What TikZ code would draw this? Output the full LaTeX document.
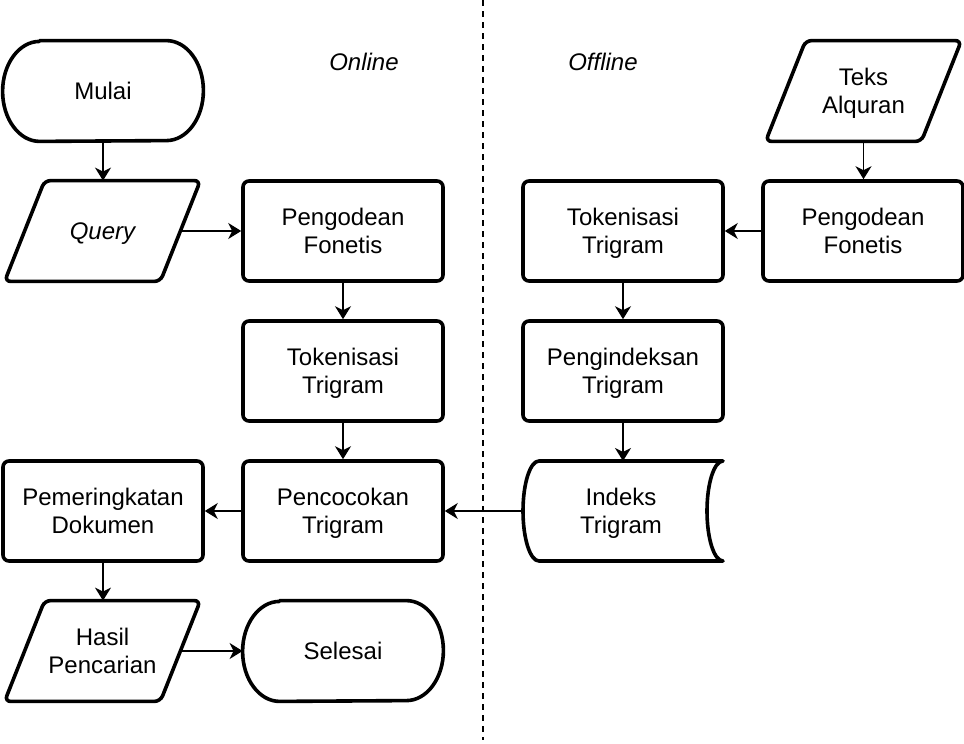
\documentclass[tikz,border=0pt]{standalone}
\usepackage{fontspec}
\setmainfont{Liberation Sans}
\usetikzlibrary{arrows.meta}
\begin{document}
\begin{tikzpicture}[x=0.5pt,y=-0.5pt,
  every node/.style={font=\fontsize{12}{14}\selectfont, align=center, inner sep=0pt, text depth=0pt},
  box/.style={draw, line width=1.8pt, rounded corners=3pt, minimum width=100pt, minimum height=50pt},
  ghost/.style={minimum width=100pt, minimum height=50pt},
  pghost/.style={minimum width=77.5pt, minimum height=50pt},
  shp/.style={line width=1.8pt, line join=round},
  arr/.style={line width=0.8pt, -{Stealth[length=6.5pt,width=8pt,inset=2pt]}},
  lbl/.style={font=\fontsize{12}{14}\selectfont\itshape}
]
\useasboundingbox (0,0) rectangle (964,744);

% nodes
\node[ghost] (mulai) at (103,91) {Mulai};
\node[pghost] (query) at (102.5,231) {\itshape Query};
\node[box] (peng1) at (343,231) {Pengodean\\Fonetis};
\node[box] (tok1) at (343,371) {Tokenisasi\\Trigram};
\node[box] (pcc) at (343,511) {Pencocokan\\Trigram};
\node[box] (pem) at (103,511) {Pemeringkatan\\Dokumen};
\node[pghost] (hasil) at (102.5,651) {Hasil\\Pencarian};
\node[ghost] (selesai) at (343,651) {Selesai};
\node[pghost] (teks) at (863.5,91) {Teks\\Alquran};
\node[box] (peng2) at (863,231) {Pengodean\\Fonetis};
\node[box] (tok2) at (623,231) {Tokenisasi\\Trigram};
\node[box] (pidx) at (623,371) {Pengindeksan\\Trigram};
\node[ghost] (idx) at (621,511) {Indeks\\Trigram};
\node[lbl] (online) at (364,62) {Online};
\node[lbl] (offline) at (603,62) {Offline};

% terminators
\foreach \n in {mulai,selesai}{
  \draw[shp] ([xshift=18.5pt]\n.north west) -- ([xshift=-18.5pt]\n.north east)
    arc[start angle=90,end angle=-90,x radius=18.5pt,y radius=25pt]
    -- ([xshift=18.5pt]\n.south west)
    arc[start angle=270,end angle=90,x radius=18.5pt,y radius=25pt] -- cycle;
}
% parallelograms
\foreach \n in {query,hasil,teks}{
  \draw[shp, rounded corners=3pt] ([xshift=10pt]\n.north west) -- ([xshift=10pt]\n.north east)
    -- ([xshift=-10pt]\n.south east) -- ([xshift=-10pt]\n.south west) -- cycle;
}
% stored data
\coordinate (idxne) at (723,461);
\coordinate (idxse) at (723,561);
\coordinate (idxnw) at (539,461);
\coordinate (idxsw) at (539,561);
\draw[shp] (idxnw) -- (idxne)
  arc[start angle=90,end angle=270,x radius=8pt,y radius=25pt]
  -- (idxsw)
  arc[start angle=270,end angle=90,x radius=8pt,y radius=25pt] -- cycle;

% divider
\coordinate (dtop) at (483,0);
\coordinate (dbot) at (483,740);
\draw[line width=1pt, dash pattern=on 3pt off 2.5pt] (dtop) -- (dbot);

% connectors
\draw[arr] (mulai.south) -- (mulai.south |- query.north);
\draw[arr] (query.east) -- (peng1.west);
\draw[arr] (peng1) -- (tok1);
\draw[arr] (tok1) -- (pcc);
\draw[arr] (pcc) -- (pem);
\draw[arr] (pem.south) -- (pem.south |- hasil.north);
\draw[arr] (hasil.east) -- (selesai.west);
\draw[arr] (teks.south) -- (teks.south |- peng2.north);
\draw[arr] (peng2) -- (tok2);
\draw[arr] (tok2) -- (pidx);
\draw[arr] (pidx.south) -- (pidx.south |- idxne);
\draw[arr] (523,511) -- (pcc.east);
\end{tikzpicture}
\end{document}
